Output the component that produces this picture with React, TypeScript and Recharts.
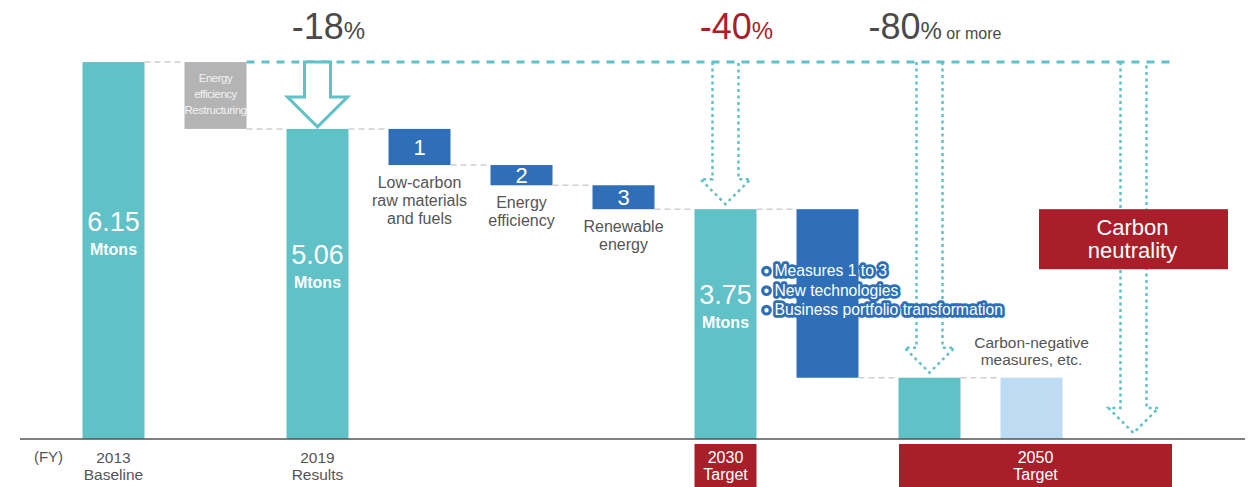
import React from 'react';
import { BarChart, Bar, XAxis, YAxis, LabelList } from 'recharts';

// ---------- data ----------
const keys = ['y2013', 'restructuring', 'y2019', 'm1', 'm2', 'm3', 'y2030', 'newTech', 'y2050', 'negative', 'neutrality'];
const lows = [0, 5.06, 0, 4.47, 4.14, 3.75, 0, 1.0, 0, 0, 2.77];
const highs = [6.15, 6.15, 5.06, 5.06, 4.47, 4.14, 3.75, 3.75, 1.0, 1.0, 3.75];
const kinds = ['total', 'gray', 'total', 'measure', 'measure', 'measure', 'total', 'blue', 'total', 'light', 'box'];
const linked = [true, true, true, true, true, true, true, true, true, false, false];
const arrowStyle = ['', '', 'hollow', '', '', '', 'dotted', '', 'dotted', '', 'dotted'];
const arrowTo = [0, 0, 5.06, 0, 0, 0, 3.75, 0, 1.0, 0, 0];
const valueLabels = ['6.15', '', '5.06', '', '', '', '3.75', '', '', '', ''];
const measureNumbers = ['', '', '', '1', '2', '3', '', '', '', '', ''];
const measureCaptions: string[][] = [[], [], [], ['Low-carbon', 'raw materials', 'and fuels'], ['Energy', 'efficiency'], ['Renewable', 'energy'], [], [], [], [], []];
const reductionMain = ['', '', '-18', '', '', '', '-40', '', '-80', '', ''];
const reductionSuffix = ['', '', '%', '', '', '', '%', '', '%', '', ''];
const reductionExtra = ['', '', '', '', '', '', '', '', ' or more', '', ''];
const reductionRed = [false, false, false, false, false, false, true, false, false, false, false];
const restructuringLines = ['Energy', 'efficiency', 'Restructuring'];
const bulletItems = ['Measures 1 to 3', 'New technologies', 'Business portfolio transformation'];
const negativeLines = ['Carbon-negative', 'measures, etc.'];
const neutralityLines = ['Carbon', 'neutrality'];
const tickTop = ['2013', '', '2019', '', '', '', '2030', '', '', '2050', ''];
const tickBottom = ['Baseline', '', 'Results', '', '', '', 'Target', '', '', 'Target', ''];
const tickBoxed = [false, false, false, false, false, false, true, false, false, true, false];

const data = keys.map((key, i) => ({ key, low: lows[i], high: highs[i] }));

// ---------- layout / style ----------
const W = 1255;
const H = 487;
const M = { top: 10, right: 10, left: 20, bottom: 0 };
const PAD_L = 42.5;
const PAD_R = 60.5;
const BAND = (W - M.left - M.right - PAD_L - PAD_R) / keys.length;
const BAR_W = 62;
const FONT = '"Liberation Sans", Arial, Helvetica, sans-serif';

const TEAL = '#60c1c7';
const BLUE = '#2f6fb8';
const RED = '#a81f2a';
const GRAY = '#b4b4b4';
const LIGHT = '#bddcf3';
const TXT = '#555555';
const DARK = '#4a4a4a';

const colorOf: Record<string, string> = {
  total: TEAL, gray: GRAY, measure: BLUE, blue: BLUE, light: LIGHT, box: RED,
};

function geom(i: number, x: number, y: number, width: number, height: number) {
  const lo = lows[i];
  const hi = highs[i];
  const k = height / (hi - lo);
  const yOf = (v: number) => y + height - (v - lo) * k;
  return { cx: x + width / 2, yOf, topY: yOf(highs[0]) };
}

const Shape = (props: any) => {
  const { x, y, width, height, payload } = props;
  const i = keys.indexOf(payload.key);
  const { cx, yOf, topY } = geom(i, x, y, width, height);
  const kind = kinds[i];
  const els: React.ReactNode[] = [];

  if (arrowStyle[i] === 'dotted') {
    const tip = yOf(arrowTo[i]) - (kind === 'box' ? 6 : 5);
    const wy = tip - 25;
    const d = `M${cx - 13},${topY} L${cx - 13},${wy} L${cx - 25},${wy} L${cx},${tip} L${cx + 25},${wy} L${cx + 13},${wy} L${cx + 13},${topY}`;
    els.push(<path key="arr" d={d} fill="none" stroke={TEAL} strokeWidth={2.5} strokeDasharray="3 3.5" />);
  }

  if (kind === 'box') {
    els.push(<rect key="r" x={cx - 94.5} y={y} width={189} height={height} fill={RED} />);
  } else {
    els.push(<rect key="r" x={x} y={y} width={width} height={height} fill={colorOf[kind]} />);
  }

  if (linked[i]) {
    const lvl = lows[i] > 0 ? lows[i] : highs[i];
    const ly = yOf(lvl);
    els.push(<line key="c" x1={x + width} x2={x + width + (BAND - width)} y1={ly} y2={ly} stroke="#d0d0d0" strokeWidth={1.5} strokeDasharray="6 4" />);
  }

  if (kind === 'gray') {
    els.push(<line key="top" x1={x + width} x2={cx + 9 * BAND + 36.5} y1={topY} y2={topY} stroke={TEAL} strokeWidth={3} strokeDasharray="8 7" />);
  }

  if (arrowStyle[i] === 'hollow') {
    const tip = yOf(arrowTo[i]) - 2;
    const wy = topY + 35;
    const pts = `${cx - 13},${topY} ${cx - 13},${wy} ${cx - 30},${wy} ${cx},${tip} ${cx + 30},${wy} ${cx + 13},${wy} ${cx + 13},${topY}`;
    els.push(<polygon key="h" points={pts} fill="#ffffff" stroke={TEAL} strokeWidth={3} strokeLinejoin="miter" />);
  }

  return <g>{els}</g>;
};

const Labels = (props: any) => {
  const vb = props.viewBox || props;
  const { x, y, width, height } = vb;
  const i = keys.indexOf(props.value);
  if (i < 0 || x == null) return null;
  const { cx, topY } = geom(i, x, y, width, height);
  const kind = kinds[i];
  const mid = y + height / 2;
  const bottom = y + height;
  const els: React.ReactNode[] = [];

  if (valueLabels[i]) {
    els.push(
      <text key="v" x={cx} y={mid - 20} textAnchor="middle" fontFamily={FONT} fontSize={27} fill="#ffffff">{valueLabels[i]}</text>,
      <text key="u" x={cx} y={mid + 4} textAnchor="middle" fontFamily={FONT} fontSize={16} fontWeight={700} fill="#ffffff">Mtons</text>,
    );
  }
  if (reductionMain[i]) {
    const col = reductionRed[i] ? RED : DARK;
    const start = reductionExtra[i] !== '';
    els.push(
      <text key="red" x={start ? cx - 61 : cx + 11} y={topY - 23} textAnchor={start ? 'start' : 'middle'} fontFamily={FONT} fill={col}>
        <tspan fontSize={36}>{reductionMain[i]}</tspan>
        <tspan fontSize={24}>{reductionSuffix[i]}</tspan>
        {reductionExtra[i] ? <tspan fontSize={16} fill={DARK}>{reductionExtra[i]}</tspan> : null}
      </text>,
    );
  }
  if (kind === 'gray') {
    restructuringLines.forEach((t, j) => {
      els.push(<text key={'g' + j} x={cx} y={y + 20 + j * 16} textAnchor="middle" fontFamily={FONT} fontSize={11.5} letterSpacing={-0.5} fill="#f2f2f2">{t}</text>);
    });
  }
  if (measureNumbers[i]) {
    els.push(
      <text key="n" x={cx} y={mid + 8} textAnchor="middle" fontFamily={FONT} fontSize={22} fill="#ffffff" stroke={BLUE} strokeWidth={3} style={{ paintOrder: 'stroke' }}>{measureNumbers[i]}</text>,
    );
    measureCaptions[i].forEach((t, j) => {
      els.push(<text key={'mc' + j} x={cx} y={bottom + 23 + j * 18} textAnchor="middle" fontFamily={FONT} fontSize={16} fill={TXT}>{t}</text>);
    });
  }
  if (kind === 'blue') {
    bulletItems.forEach((t, j) => {
      const by = y + 67 + j * 19.5;
      els.push(
        <g key={'b' + j}>
          <text x={x - 22} y={by} fontFamily={FONT} fontSize={15.7} fill="#ffffff" stroke={BLUE} strokeWidth={5.5} strokeLinejoin="round" style={{ paintOrder: 'stroke' }}>{t}</text>
          <circle cx={x - 30} cy={by - 5} r={3.8} fill="#ffffff" stroke={BLUE} strokeWidth={3.2} />
        </g>,
      );
    });
  }
  if (kind === 'light') {
    negativeLines.forEach((t, j) => {
      els.push(<text key={'l' + j} x={cx} y={y - 30 + j * 17} textAnchor="middle" fontFamily={FONT} fontSize={15.5} fill={TXT}>{t}</text>);
    });
  }
  if (kind === 'box') {
    neutralityLines.forEach((t, j) => {
      els.push(<text key={'nb' + j} x={cx - 1} y={y + 26 + j * 23} textAnchor="middle" fontFamily={FONT} fontSize={22} fill="#ffffff">{t}</text>);
    });
  }
  return <g>{els}</g>;
};

const Tick = (props: any) => {
  const { x, y, payload } = props;
  const i = keys.indexOf(payload.value);
  if (i < 0) return null;
  const els: React.ReactNode[] = [];
  if (i === 0) {
    els.push(<text key="fy" x={x - 65} y={y + 23} textAnchor="middle" fontFamily={FONT} fontSize={15} fill={TXT}>(FY)</text>);
  }
  if (tickTop[i]) {
    const shift = i === 9 ? 4 : 0;
    if (tickBoxed[i]) {
      const bw = i === 6 ? BAR_W : 273;
      els.push(<rect key="bx" x={x + shift - bw / 2} y={y + 5} width={bw} height={H - y - 5} fill={RED} />);
    }
    const col = tickBoxed[i] ? '#ffffff' : TXT;
    const fs = tickBoxed[i] ? 16 : 15.5;
    els.push(
      <text key="t1" x={x + shift} y={y + 24} textAnchor="middle" fontFamily={FONT} fontSize={fs} fill={col}>{tickTop[i]}</text>,
      <text key="t2" x={x + shift} y={y + 41} textAnchor="middle" fontFamily={FONT} fontSize={fs} fill={col}>{tickBottom[i]}</text>,
    );
  }
  return <g>{els}</g>;
};

export default function App() {
  return (
    <div style={{ position: 'absolute', left: 0, top: 0, width: W, height: H, background: '#ffffff' }}>
      <BarChart width={W} height={H} data={data} margin={M} barSize={BAR_W}>
        <XAxis
          dataKey="key"
          interval={0}
          height={H - 439}
          padding={{ left: PAD_L, right: PAD_R }}
          tickLine={false}
          tickSize={0}
          tickMargin={0}
          axisLine={{ stroke: '#555555', strokeWidth: 1.5 }}
          tick={<Tick />}
        />
        <YAxis hide type="number" domain={[0, 7]} />
        <Bar dataKey={(d: any) => [d.low, d.high]} isAnimationActive={false} shape={(p: any) => <Shape {...p} />}>
          <LabelList dataKey="key" content={(p: any) => <Labels {...p} />} />
        </Bar>
      </BarChart>
    </div>
  );
}
